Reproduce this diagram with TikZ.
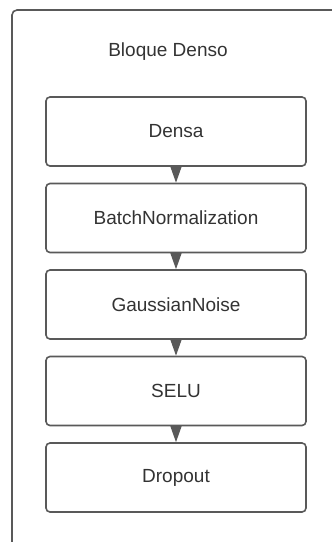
\documentclass[tikz,border=0pt]{standalone}
\usepackage{fontspec}
\setmainfont{Liberation Sans}
\usetikzlibrary{arrows.meta}
\definecolor{edgegray}{HTML}{595959}
\definecolor{textgray}{HTML}{333333}
\begin{document}
\begin{tikzpicture}[x=1pt,y=-1pt,
  layer/.style={draw=edgegray, line width=1.6pt, rounded corners=4pt,
    minimum width=260pt, minimum height=69pt, inner sep=0pt,
    font=\fontsize{19}{22}\selectfont, text=textgray, fill=white},
  flow/.style={draw=edgegray, line width=1.2pt,
    -{Triangle[length=16pt 0 0,width=11pt 0 0]}}]
\useasboundingbox (0,0) rectangle (332,542);
\clip (0,0) rectangle (332,542);
% outer container, running off the right and bottom edges
\draw[edgegray, line width=1.6pt, rounded corners=5pt]
  (12,560) -- (12,10) -- (350,10);
\node[font=\fontsize{19}{22}\selectfont, text=textgray] (title) at (168,52) {Bloque Denso};
\node[layer] (densa) at (176,131.5) {Densa};
\node[layer] (bn)    at (176,218)   {BatchNormalization};
\node[layer] (gn)    at (176,304.5) {GaussianNoise};
\node[layer] (selu)  at (176,391)   {SELU};
\node[layer] (drop)  at (176,477.5) {Dropout};
\draw[flow] (densa.south) -- (bn.north);
\draw[flow] (bn.south) -- (gn.north);
\draw[flow] (gn.south) -- (selu.north);
\draw[flow] (selu.south) -- (drop.north);
\end{tikzpicture}
\end{document}
